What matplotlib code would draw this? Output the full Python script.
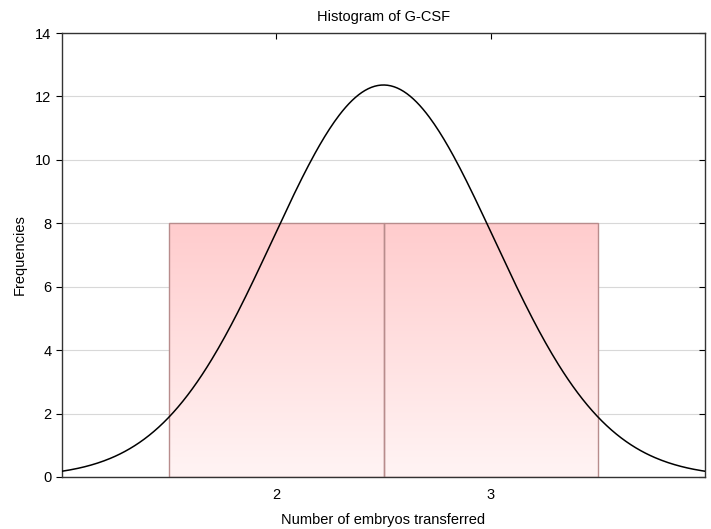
import numpy as np
import matplotlib
matplotlib.use("Agg")
import matplotlib.pyplot as plt
from matplotlib.colors import LinearSegmentedColormap

plt.rcParams['font.family'] = ['Liberation Sans', 'DejaVu Sans']

# histogram data
bin_edges = [1.5, 2.5, 3.5]
counts = [8, 8]
values = [2, 3]
xticks = [2, 3]
yticks = [0, 2, 4, 6, 8, 10, 12, 14]

# normal fit from the data
n = sum(counts)
obs = np.repeat(values, counts)
mu = obs.mean()
sd = obs.std(ddof=1)
binw = bin_edges[1] - bin_edges[0]
xs = np.linspace(1.0, 4.0, 400)
ys = n * binw * np.exp(-0.5 * ((xs - mu) / sd) ** 2) / (sd * np.sqrt(2 * np.pi))

fig = plt.figure(figsize=(7.11, 5.29), dpi=100)
ax = fig.add_axes([0.0872, 0.0983, 0.9044, 0.8393])

cmap = LinearSegmentedColormap.from_list("pinkgrad", ["#fff4f4", "#ffcccd"])
grad = np.linspace(0, 1, 256).reshape(-1, 1)
for i, c in enumerate(counts):
    x0, x1 = bin_edges[i], bin_edges[i + 1]
    ax.imshow(grad, cmap=cmap, origin="lower", aspect="auto",
              extent=[x0, x1, 0, c], zorder=1)
    ax.add_patch(plt.Rectangle((x0, 0), x1 - x0, c, fill=False,
                               edgecolor="#b88c8c", linewidth=1.0, zorder=2))

ax.plot(xs, ys, color="black", linewidth=1.1, zorder=3)

ax.set_xlim(1.0, 4.0)
ax.set_ylim(0, 14)
ax.set_xticks(xticks)
ax.set_yticks(yticks)
ax.yaxis.grid(True, color="#d8d8d8", linewidth=0.8, zorder=0)
ax.set_axisbelow(True)

ax.tick_params(axis="x", direction="in", top=True, length=4, labelsize=10.5, pad=8)
ax.tick_params(axis="y", which="both", direction="out", length=4, labelsize=10.5)
ax.tick_params(axis="y", right=True)
for t in ax.yaxis.get_ticklines()[1::2]:
    t.set_marker(0)  # right-side ticks point inward
for s in ax.spines.values():
    s.set_color("#333333")
    s.set_linewidth(1.0)

ax.set_title("Histogram of G-CSF", fontsize=10.5, pad=9)
ax.set_xlabel("Number of embryos transferred", fontsize=10.5, labelpad=8)
ax.set_ylabel("Frequencies", fontsize=10.5, labelpad=6)

fig.savefig("out.png", dpi=100)
